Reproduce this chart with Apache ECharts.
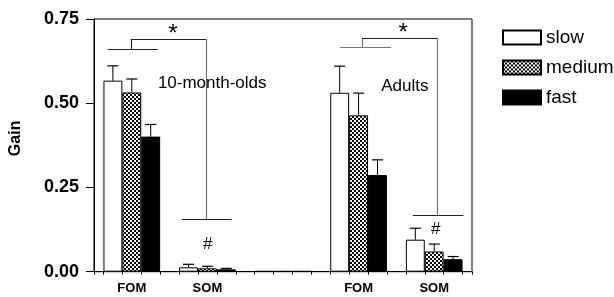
<!DOCTYPE html>
<html>
<head>
<meta charset="utf-8">
<script src="https://cdn.jsdelivr.net/npm/echarts@6/dist/echarts.min.js"></script>
<style>
  html, body { margin: 0; padding: 0; background: #fff; }
  #chart { width: 614px; height: 297px; }
</style>
</head>
<body>
<div id="chart"></div>
<script>
// data
const categories = ['FOM', 'SOM', '', 'FOM', 'SOM']
const speeds = ['slow', 'medium', 'fast']
const slowVals = [0.567, 0.013, 0.002, 0.531, 0.095]
const mediumVals = [0.532, 0.010, 0.002, 0.464, 0.060]
const fastVals = [0.401, 0.007, 0.002, 0.287, 0.037]
const slowErr = [0.044, 0.009, 0, 0.079, 0.034]
const mediumErr = [0.040, 0.006, 0, 0.066, 0.022]
const fastErr = [0.036, 0.003, 0, 0.045, 0.008]

// bracket segments in bar units (x) and gain (y): [x1, y1, x2, y2, grey?]
const bracketSegs = [
    [0.72, 0.661, 3.36, 0.661, 0],
    [1.95, 0.661, 1.95, 0.691, 0],
    [1.95, 0.691, 5.96, 0.691, 0],
    [5.96, 0.691, 5.96, 0.155, 1],
    [4.64, 0.155, 7.28, 0.155, 0],
    [13.03, 0.665, 15.71, 0.665, 1],
    [14.18, 0.665, 14.18, 0.694, 1],
    [14.18, 0.694, 18.17, 0.694, 0],
    [18.17, 0.694, 18.17, 0.168, 1],
    [16.87, 0.168, 19.54, 0.168, 0]
]
// annotation texts: [x, y, text, size, align]
const marks = [
    [4.17, 0.705, '*', 24, 'center'],
    [16.36, 0.708, '*', 24, 'center'],
    [6.02, 0.080, '#', 17, 'center'],
    [18.08, 0.127, '#', 17, 'center'],
    [3.38, 0.56, '10-month-olds', 17, 'left'],
    [15.2, 0.549, 'Adults', 17, 'left']
]

const font = 'Liberation Sans, Arial, sans-serif'

// checkered fill for "medium"
const pat = document.createElement('canvas')
pat.width = 4; pat.height = 4
const pc = pat.getContext('2d')
pc.fillStyle = '#fff'; pc.fillRect(0, 0, 4, 4)
pc.fillStyle = '#000'; pc.fillRect(0, 0, 2, 2); pc.fillRect(2, 2, 2, 2)

const fills = ['#fff', { image: pat, repeat: 'repeat' }, '#000']
const allVals = [slowVals, mediumVals, fastVals]
const allErr = [slowErr, mediumErr, fastErr]

const errData = []
allVals.forEach((vals, s) => {
    vals.forEach((v, i) => {
        if (allErr[s][i] > 0) errData.push([i * 4 + 1 + s, v, v + allErr[s][i]])
    })
})

const tickVals = [0]
for (let k = 0; k < 20; k++) tickVals.push(k + 0.5)
tickVals.push(20)

const chart = echarts.init(document.getElementById('chart'))
chart.setOption({
    animation: false,
    textStyle: { fontFamily: font },
    grid: {
        left: 93, top: 19, width: 379, height: 252.7,
        show: true, borderColor: '#000', borderWidth: 1, backgroundColor: 'transparent'
    },
    legend: {
        data: speeds,
        orient: 'vertical',
        left: 497, top: 23,
        icon: 'rect',
        itemWidth: 38, itemHeight: 14, itemGap: 11,
        textStyle: { fontSize: 19, color: '#000', fontFamily: font }
    },
    xAxis: [{
        type: 'category',
        data: categories,
        axisLine: { lineStyle: { color: '#000', width: 1 } },
        axisTick: { show: false },
        axisLabel: { color: '#000', fontWeight: 'bold', fontSize: 13, margin: 10 }
    }, {
        type: 'value',
        min: 0, max: 20,
        position: 'bottom',
        axisLine: { show: false },
        splitLine: { show: false },
        axisLabel: { show: false },
        axisTick: { show: true, customValues: tickVals, length: 3, lineStyle: { color: '#000' } }
    }],
    yAxis: {
        type: 'value',
        min: 0, max: 0.75, interval: 0.25,
        name: 'Gain',
        nameLocation: 'middle',
        nameGap: 70,
        nameTextStyle: { fontWeight: 'bold', fontSize: 16, color: '#000', padding: [0, 0, 0, 14] },
        axisLine: { show: true, lineStyle: { color: '#000' } },
        axisTick: { show: true, length: 8, lineStyle: { color: '#000' } },
        splitLine: { show: false },
        axisLabel: {
            color: '#000', fontWeight: 'bold', fontSize: 18, margin: 15,
            formatter: v => v.toFixed(2)
        }
    },
    series: [
        ...speeds.map((name, s) => ({
            name,
            type: 'bar',
            data: allVals[s],
            barGap: '0%',
            barCategoryGap: '25%',
            itemStyle: { color: fills[s], borderColor: '#000', borderWidth: 1 }
        })),
        {
            type: 'custom',
            xAxisIndex: 1,
            data: errData,
            z: 1,
            renderItem: (params, api) => {
                const p0 = api.coord([api.value(0), api.value(1)])
                const p1 = api.coord([api.value(0), api.value(2)])
                return {
                    type: 'group',
                    children: [
                        { type: 'line', shape: { x1: p0[0], y1: p0[1], x2: p1[0], y2: p1[1] }, style: { stroke: '#000', lineWidth: 1 } },
                        { type: 'line', shape: { x1: p1[0] - 5.5, y1: p1[1], x2: p1[0] + 5.5, y2: p1[1] }, style: { stroke: '#000', lineWidth: 1.2 } }
                    ]
                }
            }
        },
        {
            type: 'lines',
            coordinateSystem: 'cartesian2d',
            xAxisIndex: 1,
            polyline: false,
            data: bracketSegs.map(d => ({
                coords: [[d[0], d[1]], [d[2], d[3]]],
                lineStyle: { color: d[4] ? '#777' : '#222', width: 1.2 }
            })),
            lineStyle: { opacity: 1, curveness: 0 }
        },
        {
            type: 'scatter',
            xAxisIndex: 1,
            symbolSize: 0,
            itemStyle: { opacity: 1 },
            data: marks.map(m => ({
                value: [m[0], m[1]],
                label: {
                    show: true, position: 'inside', formatter: m[2],
                    fontSize: m[3], align: m[4], color: '#000', opacity: 1
                }
            }))
        }
    ]
})
</script>
</body>
</html>
